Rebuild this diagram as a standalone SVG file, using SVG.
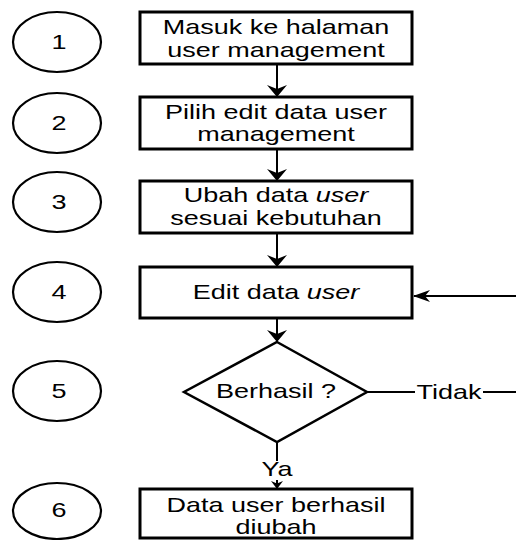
<svg xmlns="http://www.w3.org/2000/svg" width="516" height="540" viewBox="0 0 516 540">
<style>
.box{fill:#fff;stroke:#000;stroke-width:3}
.circ{fill:#fff;stroke:#000;stroke-width:2.2}
.line{fill:none;stroke:#000;stroke-width:2}
text{font-family:"Liberation Sans",Arial,sans-serif;font-size:20px;fill:#000;text-anchor:middle}
.lbl{fill:#fff;stroke:none}
</style>
<defs>
<marker id="arr" viewBox="0 0 12 20" refX="11" refY="10" markerWidth="12" markerHeight="20" markerUnits="userSpaceOnUse" orient="auto">
<path d="M0,0 L12,10 L0,20 L4,10 Z" fill="#000"/>
</marker>
<marker id="arrS" viewBox="0 0 8 12" refX="7" refY="6" markerWidth="8" markerHeight="12" markerUnits="userSpaceOnUse" orient="auto">
<path d="M0,0 L8,6 L0,12 L2.5,6 Z" fill="#000"/>
</marker>
<marker id="arrH" viewBox="0 0 17 12" refX="16" refY="6" markerWidth="17" markerHeight="12" markerUnits="userSpaceOnUse" orient="auto">
<path d="M0,0 L17,6 L0,12 L5,6 Z" fill="#000"/>
</marker>
</defs>

<g id="connectors">
<line class="line" x1="277" y1="64" x2="277" y2="96" marker-end="url(#arr)"/>
<line class="line" x1="277" y1="149" x2="277" y2="180" marker-end="url(#arr)"/>
<line class="line" x1="277" y1="233" x2="277" y2="266" marker-end="url(#arr)"/>
<line class="line" x1="277" y1="318" x2="277" y2="341" marker-end="url(#arr)"/>
<line class="line" x1="277" y1="442" x2="277" y2="488" marker-end="url(#arrS)"/>
<rect class="lbl" x="262" y="461" width="30" height="19"/>
<text transform="translate(277,476) scale(1.35,1)">Ya</text>
<line class="line" x1="367" y1="392" x2="516" y2="392"/>
<rect class="lbl" x="415" y="382" width="68" height="20"/>
<text transform="translate(449,399) scale(1.35,1)">Tidak</text>
<line class="line" x1="516" y1="296" x2="414" y2="296" marker-end="url(#arrH)"/>
</g>

<g id="c1"><ellipse class="circ" cx="57" cy="42" rx="44" ry="30"/><text transform="translate(59,49) scale(1.35,1)">1</text></g>
<g id="c2"><ellipse class="circ" cx="57" cy="123" rx="44" ry="30"/><text transform="translate(59,130) scale(1.35,1)">2</text></g>
<g id="c3"><ellipse class="circ" cx="57" cy="202" rx="44" ry="30"/><text transform="translate(59,209) scale(1.35,1)">3</text></g>
<g id="c4"><ellipse class="circ" cx="57" cy="292" rx="44" ry="30"/><text transform="translate(59,299) scale(1.35,1)">4</text></g>
<g id="c5"><ellipse class="circ" cx="57" cy="391" rx="44" ry="30"/><text transform="translate(59,398) scale(1.35,1)">5</text></g>
<g id="c6"><ellipse class="circ" cx="57" cy="511" rx="44" ry="28"/><text transform="translate(59,517) scale(1.35,1)">6</text></g>

<g id="n1"><rect class="box" x="140" y="12" width="272" height="52"/>
<text transform="translate(276,34) scale(1.35,1)">Masuk ke halaman</text>
<text transform="translate(276,57) scale(1.35,1)">user management</text></g>

<g id="n2"><rect class="box" x="140" y="97" width="272" height="52"/>
<text transform="translate(276,119) scale(1.35,1)">Pilih edit data user</text>
<text transform="translate(276,141) scale(1.35,1)">management</text></g>

<g id="n3"><rect class="box" x="140" y="181" width="272" height="52"/>
<text transform="translate(276,202) scale(1.35,1)">Ubah data <tspan font-style="italic">user</tspan></text>
<text transform="translate(276,225) scale(1.35,1)">sesuai kebutuhan</text></g>

<g id="n4"><rect class="box" x="140" y="267" width="272" height="51"/>
<text transform="translate(276,299) scale(1.35,1)">Edit data <tspan font-style="italic">user</tspan></text></g>

<g id="n5"><polygon class="box" points="277,342 367,392 277,442 184,392" style="stroke-width:2.5"/>
<text transform="translate(276,398) scale(1.35,1)">Berhasil ?</text></g>

<g id="n6"><rect class="box" x="140" y="489" width="272" height="49"/>
<text transform="translate(276,512) scale(1.35,1)">Data user berhasil</text>
<text transform="translate(276,534) scale(1.35,1)">diubah</text></g>
</svg>
